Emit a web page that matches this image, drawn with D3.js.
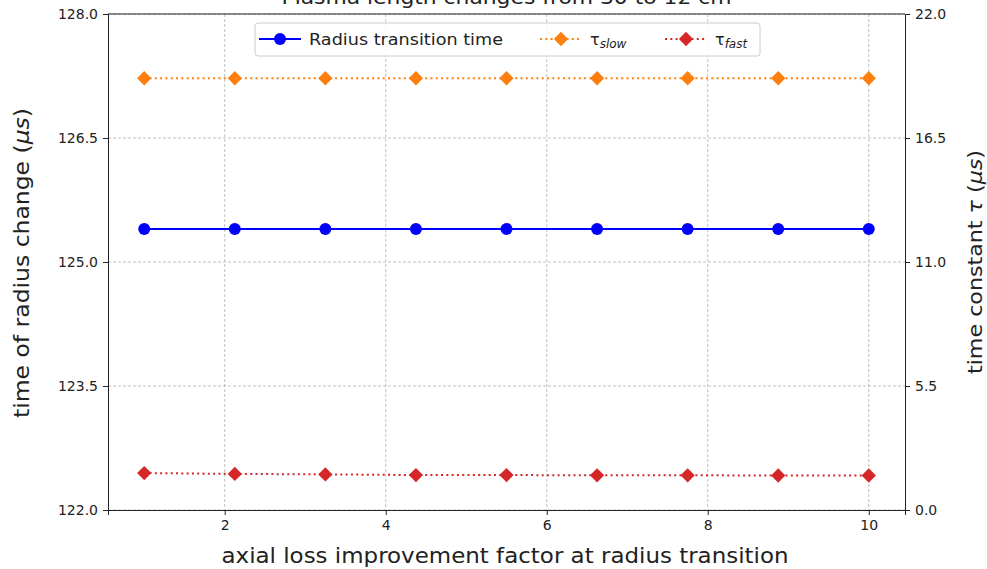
<!DOCTYPE html>
<html lang="en"><head><meta charset="UTF-8">
<title>Plasma length changes</title>
<script src="https://d3js.org/d3.v7.min.js"></script>
<style>
  body { margin: 0; background: #fff; }
  text { font-family: "DejaVu Sans", sans-serif; fill: #222; }
</style>
</head>
<body>
<script>
// data
var factors = [1, 2.125, 3.25, 4.375, 5.5, 6.625, 7.75, 8.875, 10];
var radiusTime = [125.4, 125.4, 125.4, 125.4, 125.4, 125.4, 125.4, 125.4, 125.4];
var tauSlow = [19.15, 19.15, 19.15, 19.15, 19.15, 19.15, 19.15, 19.15, 19.15];
var tauFast = [1.64, 1.60, 1.58, 1.55, 1.55, 1.54, 1.54, 1.53, 1.53];
var xTicks = [2, 4, 6, 8, 10];
var leftTicks = [122.0, 123.5, 125.0, 126.5, 128.0];
var rightTicks = [0.0, 5.5, 11.0, 16.5, 22.0];

var w = 987, h = 569;
var m = {left: 108, right: 82, top: 14, bottom: 59};

var svg = d3.select("body").append("svg")
  .attr("width", w).attr("height", h);

var x = d3.scaleLinear().domain([0.55, 10.45]).range([m.left, w - m.right]);
var yL = d3.scaleLinear().domain([122, 128]).range([h - m.bottom, m.top]);
var yR = d3.scaleLinear().domain([0, 22]).range([h - m.bottom, m.top]);

// grid
svg.append("g").selectAll("line").data(xTicks).enter().append("line")
  .attr("x1", d => x(d)).attr("x2", d => x(d))
  .attr("y1", m.top).attr("y2", h - m.bottom)
  .attr("stroke", "#b0b0b0").attr("stroke-width", 0.8).attr("stroke-dasharray", "3,2");
svg.append("g").selectAll("line").data(leftTicks).enter().append("line")
  .attr("x1", m.left).attr("x2", w - m.right)
  .attr("y1", d => yL(d)).attr("y2", d => yL(d))
  .attr("stroke", "#b0b0b0").attr("stroke-width", 0.8).attr("stroke-dasharray", "3,2");

// series
function drawLine(vals, yScale, color, dash) {
  var line = d3.line().x((d, i) => x(factors[i])).y(d => yScale(d));
  svg.append("path").datum(vals).attr("d", line)
    .attr("fill", "none").attr("stroke", color).attr("stroke-width", 2)
    .attr("stroke-dasharray", dash);
}
drawLine(radiusTime, yL, "#0000ff", null);
drawLine(tauSlow, yR, "#ff7f0e", "2,3.3");
drawLine(tauFast, yR, "#d62728", "2,3.3");

var diamond = d3.symbol().type(d3.symbolDiamond2).size(130);

svg.append("g").selectAll("circle").data(radiusTime).enter().append("circle")
  .attr("cx", (d, i) => x(factors[i])).attr("cy", d => yL(d))
  .attr("r", 6).attr("fill", "#0000ff");
svg.append("g").selectAll("path").data(tauSlow).enter().append("path")
  .attr("d", diamond)
  .attr("transform", (d, i) => "translate(" + x(factors[i]) + "," + yR(d) + ")")
  .attr("fill", "#ff7f0e");
svg.append("g").selectAll("path").data(tauFast).enter().append("path")
  .attr("d", diamond)
  .attr("transform", (d, i) => "translate(" + x(factors[i]) + "," + yR(d) + ")")
  .attr("fill", "#d62728");

// axes
var fmt = d3.format(".1f");
var gx = svg.append("g").attr("transform", "translate(0," + (h - m.bottom) + ")")
  .call(d3.axisBottom(x).tickValues(xTicks).tickSizeOuter(0).tickSize(5).tickPadding(5));
var gl = svg.append("g").attr("transform", "translate(" + m.left + ",0)")
  .call(d3.axisLeft(yL).tickValues(leftTicks).tickFormat(fmt).tickSizeOuter(0).tickSize(5).tickPadding(5));
var gr = svg.append("g").attr("transform", "translate(" + (w - m.right) + ",0)")
  .call(d3.axisRight(yR).tickValues(rightTicks).tickFormat(fmt).tickSizeOuter(0).tickSize(5).tickPadding(5));
[gx, gl, gr].forEach(function(g) {
  g.selectAll("text").style("font-size", "14px").attr("fill", "#222");
  g.selectAll("line").attr("stroke", "#222");
  g.select(".domain").attr("stroke", "#222");
});
// top border
svg.append("line").attr("x1", m.left).attr("x2", w - m.right)
  .attr("y1", m.top).attr("y2", m.top).attr("stroke", "#222");

// labels
svg.append("text").attr("x", (m.left + w - m.right) / 2).attr("y", 4)
  .attr("text-anchor", "middle").style("font-size", "20px")
  .attr("textLength", 450).attr("lengthAdjust", "spacingAndGlyphs")
  .text("Plasma length changes from 30 to 12 cm");
svg.append("text").attr("x", 505).attr("y", 563)
  .attr("text-anchor", "middle").style("font-size", "21px")
  .attr("textLength", 567).attr("lengthAdjust", "spacingAndGlyphs")
  .text("axial loss improvement factor at radius transition");

var ylab = svg.append("text").attr("transform", "translate(29,263) rotate(-90)")
  .attr("text-anchor", "middle").style("font-size", "22px")
  .attr("textLength", 310).attr("lengthAdjust", "spacingAndGlyphs");
ylab.append("tspan").text("time of radius change (");
ylab.append("tspan").style("font-style", "italic").text("μs");
ylab.append("tspan").text(")");

var rlab = svg.append("text").attr("transform", "translate(982,262) rotate(-90)")
  .attr("text-anchor", "middle").style("font-size", "20px")
  .attr("textLength", 224).attr("lengthAdjust", "spacingAndGlyphs");
rlab.append("tspan").text("time constant ");
rlab.append("tspan").style("font-style", "italic").text("τ");
rlab.append("tspan").text(" (");
rlab.append("tspan").style("font-style", "italic").text("μs");
rlab.append("tspan").text(")");

// legend
var lg = svg.append("g").attr("transform", "translate(255,23)");
lg.append("rect").attr("width", 505).attr("height", 33).attr("rx", 3)
  .attr("fill", "#fff").attr("fill-opacity", 0.85).attr("stroke", "#ccc");
var items = [
  {label: "Radius transition time", color: "#0000ff", dash: null, marker: "circle", x: 4, len: 194},
  {label: "τ", sub: "slow", color: "#ff7f0e", dash: "2,3.3", marker: "diamond", x: 285},
  {label: "τ", sub: "fast", color: "#d62728", dash: "2,3.3", marker: "diamond", x: 410}
];
items.forEach(function(it) {
  var g = lg.append("g").attr("transform", "translate(" + it.x + ",16)");
  g.append("line").attr("x1", 0).attr("x2", 42).attr("stroke", it.color)
    .attr("stroke-width", 2).attr("stroke-dasharray", it.dash);
  if (it.marker === "circle") g.append("circle").attr("cx", 21).attr("r", 6).attr("fill", it.color);
  else g.append("path").attr("d", diamond).attr("transform", "translate(21,0)").attr("fill", it.color);
  var t = g.append("text").attr("x", 50).attr("y", 6).style("font-size", "16px");
  if (it.len) t.attr("textLength", it.len).attr("lengthAdjust", "spacingAndGlyphs");
  t.append("tspan").text(it.label);
  if (it.sub) t.append("tspan").attr("dy", 3).style("font-size", "12px").style("font-style", "italic").text(it.sub);
});
</script>
</body></html>
